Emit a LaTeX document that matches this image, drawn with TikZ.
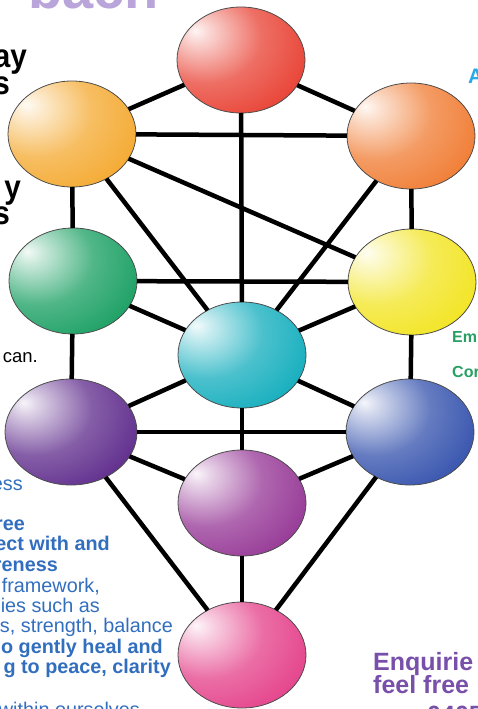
\documentclass[tikz,border=0pt]{standalone}
\usepackage{fontspec}
\setmainfont{Liberation Sans}
\newfontfamily\narrowsans[FakeStretch=0.9]{Liberation Sans}
\usetikzlibrary{shapes.geometric}

\definecolor{keterred}{RGB}{232,62,48}
\definecolor{binahgold}{RGB}{244,168,45}
\definecolor{chokmahorange}{RGB}{240,122,48}
\definecolor{gevurahgreen}{RGB}{22,158,96}
\definecolor{chesedyellow}{RGB}{242,228,30}
\definecolor{tiferetcyan}{RGB}{15,172,188}
\definecolor{hodpurple}{RGB}{92,40,138}
\definecolor{netzachblue}{RGB}{50,80,172}
\definecolor{yesodmagenta}{RGB}{148,52,148}
\definecolor{malkuthpink}{RGB}{228,62,136}
\definecolor{blurbblue}{RGB}{50,110,190}
\definecolor{enqpurple}{RGB}{120,80,170}
\definecolor{emgreen}{RGB}{40,160,100}
\definecolor{acyan}{RGB}{40,170,230}
\definecolor{titlelilac}{RGB}{185,165,218}

\makeatletter
\pgfdeclareradialshading[tikz@ball]{gloss}{\pgfqpoint{-18bp}{14bp}}{%
  color(0bp)=(tikz@ball!5!white);
  color(5bp)=(tikz@ball!22!white);
  color(22bp)=(tikz@ball!75!white);
  color(42bp)=(tikz@ball);
  color(65bp)=(tikz@ball!88!black);
  color(100bp)=(tikz@ball!80!black)}
\makeatother

\begin{document}
\begin{tikzpicture}[x=1pt, y=-1pt,
sphere/.style = {ellipse, draw=black!70, line width=0.8pt, inner sep=0pt,
  outer sep=0pt, minimum width=128pt, minimum height=106pt,
  ball color=#1, shading=gloss},
link/.style = {line width=4.5pt},
blurb/.style = {inner sep=0pt, anchor=base east, text=blurbblue,
  font=\fontsize{19.8}{20.4}\selectfont},
boldblurb/.style = {blurb, font=\fontsize{19.8}{20.4}\selectfont\bfseries},
lead/.style = {inner sep=0pt, anchor=base east,
  font=\fontsize{33}{27}\narrowsans\bfseries},
side/.style = {inner sep=0pt, anchor=base west, font=\bfseries}]
\useasboundingbox (0,0) rectangle (477,709);
\clip (0,0) rectangle (477,709);

% the ten spheres
\node[sphere=keterred] (keter) at (241,60) {};
\node[sphere=binahgold] (binah) at (72,134) {};
\node[sphere=chokmahorange] (chokmah) at (411,136) {};
\node[sphere=gevurahgreen] (gevurah) at (73,281) {};
\node[sphere=chesedyellow] (chesed) at (412,282) {};
\node[sphere=tiferetcyan] (tiferet) at (242,355) {};
\node[sphere=hodpurple, minimum width=132pt] (hod) at (71,432) {};
\node[sphere=netzachblue] (netzach) at (410,432) {};
\node[sphere=yesodmagenta] (yesod) at (242,503) {};
\node[sphere=malkuthpink] (malkuth) at (242,655) {};

% paths
\draw[link] (keter) -- (binah);
\draw[link] (keter) -- (chokmah);
\draw[link] (keter) -- (tiferet);
\draw[link] (binah) -- (chokmah);
\draw[link] (binah) -- (gevurah);
\draw[link] (binah) -- (tiferet);
\draw[link] (binah) -- (chesed);
\draw[link] (chokmah) -- (chesed);
\draw[link] (chokmah) -- (tiferet);
\draw[link] (gevurah) -- (chesed);
\draw[link] (gevurah) -- (tiferet);
\draw[link] (gevurah) -- (hod);
\draw[link] (chesed) -- (tiferet);
\draw[link] (chesed) -- (netzach);
\draw[link] (tiferet) -- (hod);
\draw[link] (tiferet) -- (netzach);
\draw[link] (tiferet) -- (yesod);
\draw[link] (hod) -- (netzach);
\draw[link] (hod) -- (yesod);
\draw[link] (hod) -- (malkuth);
\draw[link] (netzach) -- (yesod);
\draw[link] (netzach) -- (malkuth);
\draw[link] (yesod) -- (malkuth);

% title cut by the top edge
\node[inner sep=0pt, anchor=base west, text=titlelilac,
  font=\fontsize{56}{60}\selectfont\bfseries] (title) at (28,9) {bach};

% text cut by the left edge
\node[lead] (leadA) at (27,67) {ay};
\node[lead] (leadB) at (10,94) {s};
\node[lead] (leadC) at (21,198) {y};
\node[lead] (leadD) at (10,224) {s};
\node[inner sep=0pt, anchor=base east, font=\fontsize{18.5}{20}\selectfont] (can) at (38,362) {can.};

\node[blurb] (b1) at (23,490) {ess};
\node[boldblurb] (b2) at (25,530) {ree};
\node[boldblurb] (b3) at (110,550) {ect with and};
\node[boldblurb] (b4) at (58,571) {reness};
\node[blurb] (b5) at (100,592) {framework,};
\node[blurb] (b6) at (100,612) {ies such as};
\node[blurb] (b7) at (173,632) {s, strength, balance};
\node[boldblurb] (b8) at (163,653) {o gently heal and};
\node[boldblurb] (b9) at (171,673) {g to peace, clarity};
\node[blurb] (b10) at (140,716) {within ourselves};

% text cut by the right edge
\node[side, text=acyan, font=\fontsize{21}{24}\selectfont\bfseries] (aside) at (468,83) {A};
\node[side, text=emgreen, font=\fontsize{16}{18}\selectfont\bfseries] (em) at (452,342) {Em};
\node[side, text=emgreen, font=\fontsize{16}{18}\selectfont\bfseries] (cor) at (452,377) {Cor};
\node[side, text=enqpurple, font=\fontsize{25}{23}\selectfont\bfseries] (enq) at (373,670) {Enquirie};
\node[side, text=enqpurple, font=\fontsize{25}{23}\selectfont\bfseries] (feel) at (373,693) {feel free};
\node[side, text=enqpurple, font=\fontsize{25}{23}\selectfont\bfseries] (phone) at (427,723) {0405};
\end{tikzpicture}
\end{document}
